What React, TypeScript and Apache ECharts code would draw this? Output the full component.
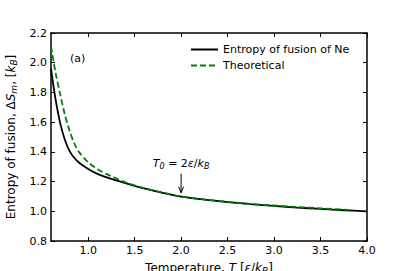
import React, { useEffect, useRef } from "react";
import * as echarts from "echarts";

const blackT = [0.6, 0.625, 0.65, 0.675, 0.7, 0.75, 0.8, 0.85, 0.9, 1.0, 1.1, 1.2, 1.3, 1.4, 1.5, 1.6, 1.8, 2.0, 2.25, 2.5, 2.75, 3.0, 3.25, 3.5, 3.75, 4.0];
const blackS = [1.96, 1.85, 1.75, 1.665, 1.59, 1.48, 1.405, 1.36, 1.328, 1.285, 1.252, 1.228, 1.208, 1.19, 1.171, 1.154, 1.124, 1.098, 1.078, 1.062, 1.048, 1.036, 1.025, 1.016, 1.007, 1.0];
const greenT = [0.6, 0.65, 0.7, 0.75, 0.8, 0.85, 0.9, 1.0, 1.1, 1.2, 1.3, 1.4, 1.5, 1.6, 1.8, 2.0, 2.25, 2.5, 2.75, 3.0, 3.25, 3.5, 3.8];
const greenS = [2.11, 1.93, 1.785, 1.648, 1.543, 1.458, 1.4, 1.33, 1.283, 1.25, 1.222, 1.195, 1.174, 1.156, 1.126, 1.1, 1.08, 1.064, 1.05, 1.039, 1.029, 1.02, 1.009];
const xTicks = [1.0, 1.5, 2.0, 2.5, 3.0, 3.5, 4.0];
const seriesNames = ["Entropy of fusion of Ne", "Theoretical"];
const annotT = 2.0;

const FONT = "DejaVu Sans";

export default function App() {
  const ref = useRef<HTMLDivElement>(null);
  useEffect(() => {
    if (!ref.current) return;
    document.body.style.margin = "0";
    const chart = echarts.init(ref.current, null, { renderer: "svg" });
    const axisLine = { show: true, lineStyle: { color: "#000", width: 1.5 } };
    const tick = { show: true, inside: true, length: 4, lineStyle: { color: "#000", width: 1 } };
    const sub = { fontSize: 9, fontFamily: FONT, verticalAlign: "bottom" as const, padding: [6, 0, 0, 0] };
    chart.setOption({
      animation: false,
      backgroundColor: "#fff",
      grid: { left: 51, right: 40, top: 33, bottom: 30, outerBoundsMode: "none", containLabel: false },
      legend: {
        orient: "vertical",
        left: 185,
        top: 39,
        itemWidth: 27,
        itemHeight: 8,
        itemGap: 5,
        itemStyle: { opacity: 0 },
        textStyle: { fontFamily: FONT, fontSize: 11, color: "#000" },
        data: seriesNames,
      },
      xAxis: [
        {
          type: "value",
          min: 0.6,
          max: 4.0,
          interval: 0.5,
          axisLine,
          axisTick: { ...tick, customValues: xTicks },
          axisLabel: {
            customValues: xTicks,
            fontFamily: FONT,
            fontSize: 11,
            color: "#000",
            margin: 4,
            formatter: (v: number) => v.toFixed(1),
          },
          splitLine: { show: false },
          name: "Temperature, {i|T} [{i|ε}/{i|k}{s|B}]",
          nameLocation: "middle",
          nameGap: 19,
          nameTextStyle: {
            fontFamily: FONT,
            fontSize: 12,
            color: "#000",
            rich: {
              i: { fontStyle: "italic", fontFamily: FONT, fontSize: 12 },
              s: { ...sub, fontStyle: "italic" },
            },
          },
        },
        {
          type: "value",
          position: "top",
          min: 0.6,
          max: 4.0,
          axisLine,
          axisTick: { ...tick, customValues: xTicks },
          axisLabel: { show: false },
          splitLine: { show: false },
        },
      ],
      yAxis: [
        {
          type: "value",
          min: 0.8,
          max: 2.2,
          interval: 0.2,
          axisLine,
          axisTick: tick,
          axisLabel: {
            fontFamily: FONT,
            fontSize: 11,
            color: "#000",
            margin: 4,
            formatter: (v: number) => v.toFixed(1),
          },
          splitLine: { show: false },
          name: "Entropy of fusion, Δ{i|S}{s|m}, [{i|k}{si|B}]",
          nameLocation: "middle",
          nameGap: 27,
          nameTextStyle: {
            fontFamily: FONT,
            fontSize: 12,
            color: "#000",
            rich: {
              i: { fontStyle: "italic", fontFamily: FONT, fontSize: 12 },
              s: { ...sub, fontStyle: "italic" },
              si: { ...sub, fontStyle: "italic" },
            },
          },
        },
        {
          type: "value",
          position: "right",
          min: 0.8,
          max: 2.2,
          interval: 0.2,
          axisLine,
          axisTick: tick,
          axisLabel: { show: false },
          splitLine: { show: false },
        },
      ],
      series: [
        {
          name: seriesNames[0],
          type: "line",
          smooth: 0.3,
          symbol: "none",
          lineStyle: { color: "#000", width: 1.8 },
          itemStyle: { color: "#000" },
          data: blackT.map((t, i) => [t, blackS[i]]),
          z: 3,
        },
        {
          name: seriesNames[1],
          type: "line",
          smooth: 0.3,
          symbol: "none",
          lineStyle: { color: "#008000", width: 1.8, type: [6, 3] },
          itemStyle: { color: "#008000" },
          data: greenT.map((t, i) => [t, greenS[i]]),
          z: 4,
        },
      ],
    });

    const idx = blackT.indexOf(annotT);
    const p = chart.convertToPixel({ xAxisIndex: 0, yAxisIndex: 0 }, [annotT, blackS[idx]]);
    if (p) {
      const [px, py] = p;
      const tipY = py - 4;
      const startY = tipY - 19;
      chart.setOption({
        graphic: [
          { type: "line", shape: { x1: px, y1: startY, x2: px, y2: tipY }, style: { stroke: "#000", lineWidth: 1 } },
          { type: "polyline", shape: { points: [[px - 2.5, tipY - 6], [px, tipY], [px + 2.5, tipY - 6]] }, style: { stroke: "#000", lineWidth: 1, fill: null } },
          {
            type: "text",
            x: px,
            y: startY - 3,
            style: {
              text: "{i|T}{s|0}{n| = 2}{i|ε}{n|/}{i|k}{s|B}",
              align: "center",
              verticalAlign: "bottom",
              rich: {
                i: { fontStyle: "italic", fontFamily: FONT, fontSize: 11, fill: "#000" },
                n: { fontFamily: FONT, fontSize: 11, fill: "#000" },
                s: { fontFamily: FONT, fontSize: 8, fontStyle: "italic", fill: "#000", verticalAlign: "bottom", padding: [6, 0, 0, 0] },
              },
            },
          },
          {
            type: "text",
            left: 70,
            top: 53,
            style: { text: "(a)", fontFamily: FONT, fontSize: 11, fill: "#000" },
          },
        ],
      });
    }
    return () => chart.dispose();
  }, []);
  return <div ref={ref} style={{ width: 407, height: 271 }} />;
}
